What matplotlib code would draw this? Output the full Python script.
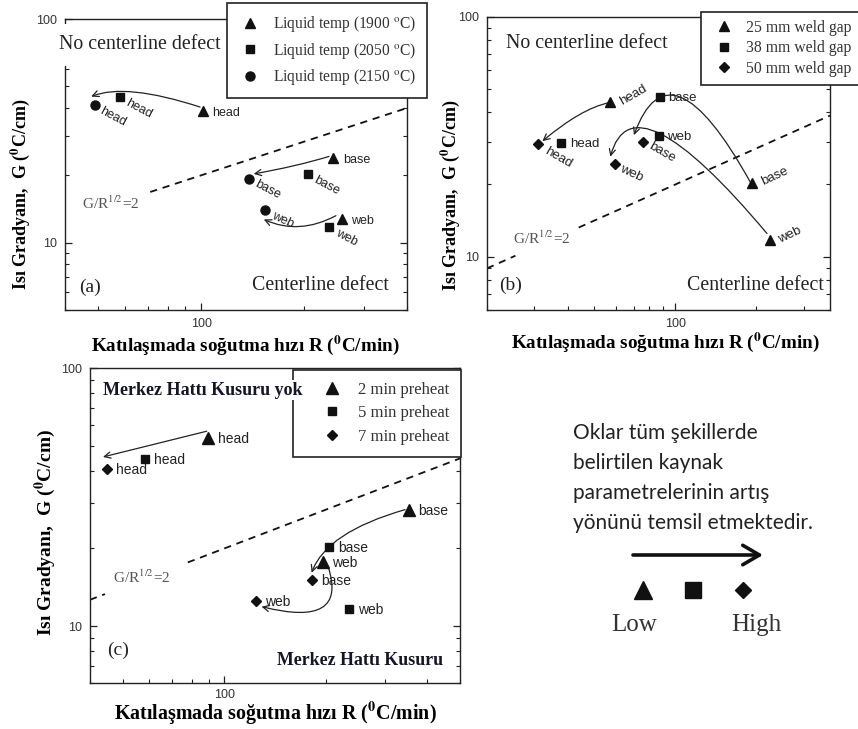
import numpy as np
import matplotlib
matplotlib.use("Agg")
import matplotlib.pyplot as plt
from matplotlib.ticker import LogLocator, FuncFormatter, NullFormatter
from matplotlib.patches import Rectangle

plt.rcParams["font.family"] = ["Liberation Serif", "DejaVu Serif"]
plt.rcParams["mathtext.fontset"] = "stix"

W, H = 858, 729
LOCS = ["head", "base", "web"]

# (a) liquid temperature -- rows: series, cols: head / base / web
A_SERIES = ["Liquid temp (1900 $^{\\rm o}$C)", "Liquid temp (2050 $^{\\rm o}$C)",
            "Liquid temp (2150 $^{\\rm o}$C)"]
A_R = [[101, 243, 258], [58, 206, 237], [49, 138, 154]]
A_G = [[38.8, 23.9, 12.8], [44.7, 20.3, 11.7], [41.3, 19.3, 14.0]]

# (b) weld gap
B_SERIES = ["25 mm weld gap", "38 mm weld gap", "50 mm weld gap"]
B_R = [[57.4, 193, 225], [37.8, 88.0, 86.7], [31.0, 75.7, 59.6]]
B_G = [[44.3, 20.2, 11.7], [29.8, 46.4, 31.9], [29.4, 30.1, 24.3]]

# (c) preheat time
C_SERIES = ["2 min preheat", "5 min preheat", "7 min preheat"]
C_R = [[89.7, 352, 196], [58.2, 204, 234], [44.8, 181.5, 124]]
C_G = [[53.7, 28.1, 17.7], [44.6, 20.3, 11.7], [40.8, 15.1, 12.5]]

# trend arrows: (R start, G start, R end, G end, connection)
A_ARROWS = [(99.3, 40.4, 47.7, 45.0, "angle3,angleA=162,angleB=22"),
            (236.6, 24.3, 142.5, 20.3, "angle3,angleA=17,angleB=10"),
            (247.8, 13.2, 152.5, 12.7, "angle3,angleA=28,angleB=-24")]
B_ARROWS = [(56.6, 43.8, 32.1, 30.3, "angle3,angleA=12,angleB=40"),
            (189.6, 20.5, 70.2, 32.1, "angle3,angleA=119,angleB=70"),
            (218.8, 12.5, 57.4, 26.1, "angle3,angleA=130,angleB=75")]
C_ARROWS = [(88.7, 57.0, 43.7, 45.3, "arc3,rad=0"),
            (343.6, 28.3, 181.6, 16.1, "angle3,angleA=16,angleB=70"),
            (203.5, 16.9, 129, 11.9, "angle3,angleA=108,angleB=-14")]

# G/R^1/2 = 2 line, drawn in pieces (gap under its label)
A_LINE = [(71, 400)]
B_LINE = [(20, 25.5), (43.8, 375)]
C_LINE = [(40, 44.3), (78, 500)]

KEY_TEXT = ["Oklar tüm şekillerde", "belirtilen kaynak",
            "parametrelerinin artış", "yönünü temsil etmektedir."]

# label offsets (px) and rotation for each point
A_LAB = [[(10, -2, 0), (10, -2, 0), (9, -2, 0)],
         [(6, -5, -28), (6, -5, -28), (7, -5, -28)],
         [(5, -5, -28), (7, -5, -28), (7, -5, -25)]]
B_LAB = [[(10, -1, 30), (10, 1, 25), (9, 0, 25)],
         [(9, -1, 0), (8, -1, 0), (8, -1, 0)],
         [(7, -6, -30), (7, -4, -30), (6, -4, -25)]]
C_LAB = [[(9.5, -1, 0)] * 3] * 3

fig = plt.figure(figsize=(W / 100, H / 100), dpi=100)


def add_ax(l, t, r, b):
    return fig.add_axes([l / W, 1 - b / H, (r - l) / W, (b - t) / H])


def panel(ax, series, marks, msz, R, G, lab, lab_fs, arrows, segs, xlim, ylim):
    ax.set_xscale("log")
    ax.set_yscale("log")
    for i, name in enumerate(series):
        ax.plot(R[i], G[i], ls="none", marker=marks[i], ms=msz[i], color="#111",
                label=name, zorder=4)
        for j, loc in enumerate(LOCS):
            dx, dy, rot = lab[i][j]
            ax.annotate(loc, (R[i][j], G[i][j]), xytext=(dx, dy),
                        textcoords="offset pixels", rotation=rot,
                        rotation_mode="anchor", ha="left", va="center",
                        fontsize=lab_fs, family="Liberation Sans", color="#222")
    for r0, g0, r1, g1, cs in arrows:
        ax.annotate("", xy=(r1, g1), xytext=(r0, g0),
                    arrowprops=dict(arrowstyle="->,head_length=0.45,head_width=0.22",
                                    connectionstyle=cs, lw=0.9, color="#222",
                                    shrinkA=0, shrinkB=0))
    for lo, hi in segs:
        rr = np.geomspace(lo, hi, 50)
        ax.plot(rr, 2 * np.sqrt(rr), color="#111", lw=1.3, dashes=(4, 3.2))
    ax.set_xlim(*xlim)
    ax.set_ylim(*ylim)
    fmt = FuncFormatter(lambda v, p: f"{v:g}")
    for axis in (ax.xaxis, ax.yaxis):
        axis.set_major_locator(LogLocator(base=10))
        axis.set_minor_locator(LogLocator(base=10, subs=np.arange(2, 10)))
        axis.set_major_formatter(fmt)
        axis.set_minor_formatter(NullFormatter())
    ax.tick_params(which="both", direction="in", top=False, right=True,
                   labelsize=9, labelcolor="#333", color="#222",
                   labelfontfamily="Liberation Sans", pad=6)
    ax.tick_params(which="major", length=5, width=0.9)
    ax.tick_params(which="minor", length=3, width=0.8)
    for s in ax.spines.values():
        s.set_linewidth(1.0)
        s.set_color("#222")


def legend(ax, x, y, fs, **kw):
    leg = ax.legend(loc="upper left", bbox_to_anchor=(x / W, 1 - y / H),
                    bbox_transform=fig.transFigure, borderaxespad=0,
                    fancybox=False, framealpha=1, edgecolor="#222",
                    prop=dict(family="Liberation Serif", size=fs), **kw)
    leg.get_frame().set_linewidth(1.2)
    for t in leg.get_texts():
        t.set_color("#333")
    leg.set_zorder(6)
    return leg


def labels(ax, fs_y, fs_x, ylab_xy, xlab_xy):
    ax.set_ylabel("Isı Gradyanı,  G ($\\mathbf{^0}$C/cm)", fontsize=fs_y,
                  fontweight="bold", ha="center", va="center")
    ax.set_xlabel("Katılaşmada soğutma hızı R ($\\mathbf{^0}$C/min)", fontsize=fs_x,
                  fontweight="bold", ha="center", va="center")
    ax.yaxis.set_label_coords(*ylab_xy)
    ax.xaxis.set_label_coords(*xlab_xy)


txt = dict(family="Liberation Serif", color="#222", ha="left", va="center", zorder=7)
gr = {**txt, "color": "#555"}

# ---- (a)
axa = add_ax(65, 19, 407, 310)
panel(axa, A_SERIES, ["^", "s", "o"], [7.5, 5.5, 6.5], A_R, A_G, A_LAB, 9,
      A_ARROWS, A_LINE, (40, 400), (5, 100))
legend(axa, 227, 3, 11.2, handlelength=1.51, handletextpad=0.7,
       labelspacing=0.42, borderpad=0.72)
axa.add_patch(Rectangle((-0.0205, 0.8385), 0.491, 0.144, transform=axa.transAxes,
                        facecolor="white", edgecolor="none", clip_on=False, zorder=3))
axa.text(-0.0175, 0.911, "No centerline defect", transform=axa.transAxes,
         fontsize=14.3, **txt)
axa.text(0.547, 0.0825, "Centerline defect", transform=axa.transAxes, fontsize=14.3, **txt)
axa.text(0.041, 0.079, "(a)", transform=axa.transAxes, fontsize=14, **txt)
axa.text(0.0497, 0.368, "G/R$^{1/2}$=2", transform=axa.transAxes, fontsize=11, **gr)
labels(axa, 13, 13.8, (-0.1316, 0.3986), (0.526, -0.120))

# ---- (b)
axb = add_ax(487, 16.7, 830, 310)
panel(axb, B_SERIES, ["^", "s", "D"], [7.5, 5.5, 5], B_R, B_G, B_LAB, 9.5,
      B_ARROWS, B_LINE, (20, 375), (6, 100))
legend(axb, 700.7, 11.7, 11.3, handlelength=2.0, handletextpad=0.38,
       labelspacing=0.3, borderpad=0.5)
axb.text(0.0554, 0.910, "No centerline defect", transform=axb.transAxes,
         fontsize=14.3, **txt)
axb.text(0.582, 0.0852, "Centerline defect", transform=axb.transAxes, fontsize=14.3, **txt)
axb.text(0.035, 0.0852, "(b)", transform=axb.transAxes, fontsize=14, **txt)
axb.text(0.0758, 0.245, "G/R$^{1/2}$=2", transform=axb.transAxes, fontsize=11, **gr)
labels(axb, 13, 13.8, (-0.1058, 0.392), (0.519, -0.11))

# ---- (c)
axc = add_ax(90, 368.3, 460, 683.3)
panel(axc, C_SERIES, ["^", "s", "D"], [8, 6, 5.5], C_R, C_G, C_LAB, 10,
      C_ARROWS, C_LINE, (40, 500), (6, 100))
axc.tick_params(axis="x", pad=4)
legend(axc, 293, 370, 12, handlelength=3.2, handletextpad=-0.05,
       labelspacing=0.44, borderpad=0.72)
bold = {**txt, "color": "#151528", "fontweight": "bold"}
axc.text(0.035, 0.931, "Merkez Hattı Kusuru yok", transform=axc.transAxes,
         fontsize=13, bbox=dict(facecolor="white", edgecolor="none", pad=1), **bold)
axc.text(0.505, 0.0708, "Merkez Hattı Kusuru", transform=axc.transAxes,
         fontsize=12.9, **bold)
axc.text(0.046, 0.106, "(c)", transform=axc.transAxes, fontsize=14, **txt)
axc.text(0.062, 0.337, "G/R$^{1/2}$=2", transform=axc.transAxes, fontsize=11, **gr)
labels(axc, 14, 14.4, (-0.1216, 0.479), (0.5, -0.0958))

# ---- key
for k, line in enumerate(KEY_TEXT):
    fig.text(573 / W, 1 - (433 + 30 * k) / H, line, fontsize=15, family="Lato",
             color="#222", ha="left", va="center")
axk = add_ax(593, 540, 793, 640)
axk.axis("off")
axk.set_xlim(0, 4)
axk.set_ylim(0, 1)
for i, (m, s) in enumerate(zip(["^", "s", "D"], [13, 11, 8.5])):
    axk.plot(i + 1, 0.5, marker=m, ms=s, color="#111", ls="none")
axk.annotate("", xy=(3.4, 0.85), xytext=(0.8, 0.85),
             arrowprops=dict(arrowstyle="->,head_length=0.6,head_width=0.35",
                             lw=2.6, color="#111", mutation_scale=20,
                             shrinkA=0, shrinkB=0))
axk.text(0.82, 0.15, "Low", fontsize=18, color="#333", ha="center", va="center")
axk.text(3.26, 0.15, "High", fontsize=18, color="#333", ha="center", va="center")

fig.savefig("out.png", dpi=100)
